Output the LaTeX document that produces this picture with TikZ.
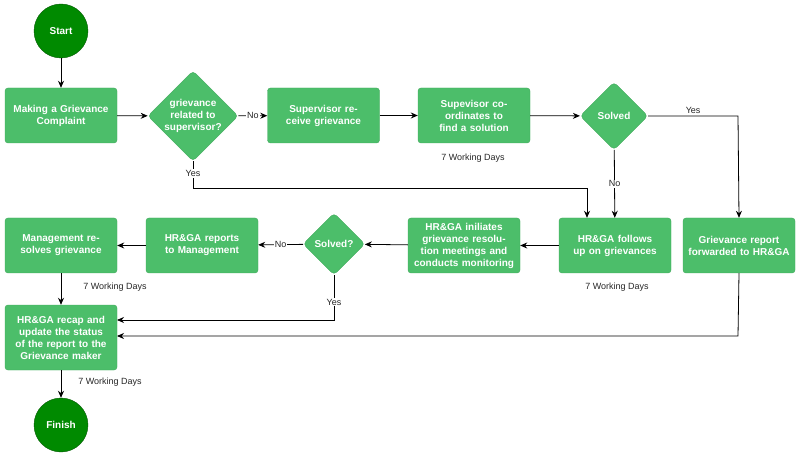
\documentclass[tikz,border=0pt]{standalone}
\usepackage{fontspec}
\setmainfont{Liberation Sans}
\usetikzlibrary{shapes.geometric,arrows.meta}
\definecolor{bx}{HTML}{4CBE6A}
\definecolor{bxd}{HTML}{3FA85B}
\definecolor{cr}{HTML}{008A00}
\definecolor{crd}{HTML}{005700}
\begin{document}
\begin{tikzpicture}[x=1pt,y=-1pt,
  box/.style={rectangle,rounded corners=3pt,fill=bx,draw=bxd,minimum width=112pt,minimum height=55pt,text width=106pt,align=center,text=white,font=\fontsize{10}{12}\selectfont\bfseries,inner sep=2pt},
  dia/.style={diamond,aspect=1,rounded corners=4pt,fill=bx,draw=bxd,text=white,align=center,font=\fontsize{10}{12}\selectfont\bfseries,inner sep=0pt},
  circ/.style={circle,fill=cr,draw=crd,minimum size=54pt,text=white,font=\fontsize{10}{12}\selectfont\bfseries},
  lbl/.style={font=\fontsize{9}{11}\selectfont,text=black!85,fill=white,inner sep=1pt},
  note/.style={font=\fontsize{9}{11}\selectfont,text=black!85},
  ar/.style={-{Stealth[length=7pt,width=6pt]},line width=0.8pt}]
\useasboundingbox (0,0) rectangle (800,462);
\node[circ] (start) at (61,31) {Start};
\node[box] (make) at (61,115.5) {Making a Grievance Complaint};
\node[dia,minimum size=90pt] (d1) at (193,116) {grievance\\related to\\supervisor?};
\node[box] (sup) at (323.5,115.5) {Supervisor receive grievance};
\node[box] (coord) at (474,115.5) {Supevisor coordinates to find a solution};
\node[dia,minimum size=68pt] (d2) at (614,116) {Solved};
\node[box] (fwd) at (739,245.5) {Grievance report forwarded to HR\&GA};
\node[box] (follow) at (615,245.5) {HR\&GA follows up on grievances};
\node[box] (init) at (464,245.5) {HR\&GA iniliates grievance resolution meetings and conducts monitoring};
\node[dia,minimum size=62pt] (d3) at (334,244) {Solved?};
\node[box] (rep) at (202,245.5) {HR\&GA reports to Management};
\node[box] (mgmt) at (61,245.5) {Management resolves grievance};
\node[box,minimum height=65pt] (recap) at (61,337.5) {HR\&GA recap and update the status of the report to the Grievance maker};
\node[circ] (fin) at (61,425) {Finish};
\node[note] (n1) at (473,158) {7 Working Days};
\node[note] (n2) at (617,287) {7 Working Days};
\node[note] (n3) at (115,287) {7 Working Days};
\node[note] (n4) at (110,382) {7 Working Days};
\coordinate (c1) at (193,188);
\coordinate (c2) at (587,188);
\coordinate (c3) at (738,116);
\coordinate (c4) at (334,320);
\coordinate (c5) at (117,320);
\coordinate (c6) at (738,336);
\coordinate (c7) at (117,336);
\draw[ar] (start) -- (make);
\draw[ar] (make) -- (d1);
\draw[ar] (d1) -- node[lbl]{No} (sup);
\draw[ar] (sup) -- (coord);
\draw[ar] (coord) -- (d2);
\draw[ar] (d2.east) -- node[lbl,pos=0.5,yshift=6pt]{Yes} (c3) -- (fwd.north);
\draw[ar] (d2) -- node[lbl]{No} (follow);
\draw[ar] (d1.south) -- node[lbl,pos=0.45]{Yes} (c1) -- (c2) -- (c2 |- follow.north);
\draw[ar] (follow) -- (init);
\draw[ar] (init) -- (d3);
\draw[ar] (d3) -- node[lbl]{No} (rep);
\draw[ar] (rep) -- (mgmt);
\draw[ar] (mgmt) -- (recap);
\draw[ar] (d3.south) -- node[lbl,pos=0.6]{Yes} (c4) -- (c5);
\draw[ar] (fwd.south) -- (c6) -- (c7);
\draw[ar] (recap) -- (fin);
\end{tikzpicture}
\end{document}
